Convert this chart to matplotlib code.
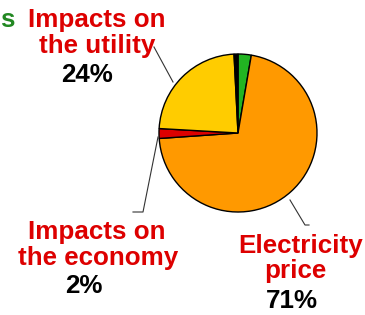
import matplotlib
matplotlib.use("Agg")
import matplotlib.pyplot as plt

# Data (clockwise from 12 o'clock)
categories = ["Environmental impacts", "Electricity price", "Impacts on the economy",
              "Impacts on the utility", "Other"]
values = [2.7, 71.2, 2.0, 23.3, 0.8]
colors = ["#22b422", "#ff9900", "#dd0000", "#ffcc00", "#000000"]

plt.rcParams['font.family'] = ['Liberation Sans', 'DejaVu Sans']

W, H = 365, 315
fig = plt.figure(figsize=(W / 100, H / 100), dpi=100)
ax = fig.add_axes([0, 0, 1, 1])

def Y(y):
    return H - y

ax.pie(values, colors=colors, startangle=90, counterclock=False,
       center=(238, Y(133)), radius=79, frame=True,
       wedgeprops=dict(edgecolor="black", linewidth=1.0))
ax.set_xlim(0, W)
ax.set_ylim(0, H)
ax.set_aspect('equal')
ax.axis('off')

fs = 18.7
red = "#dd0000"

def txt(x, y, s, c):
    ax.text(x, Y(y), s, color=c, fontsize=fs, fontweight='bold',
            ha='center', va='baseline')

# Utility label
txt(97, 27, "Impacts on", red)
txt(97, 53, "the utility", red)
txt(87, 82, "24%", "black")
# Economy label
txt(97, 239, "Impacts on", red)
txt(98, 265, "the economy", red)
txt(84, 293, "2%", "black")
# Electricity label
txt(301, 253, "Electricity", red)
txt(295, 278, "price", red)
txt(292, 308, "71%", "black")
# Cut-off green label
ax.text(0.5, Y(27), "s", color="#228822", fontsize=fs, fontweight='bold',
        ha='left', va='baseline')

lw = 0.8
ax.plot([154, 173], [Y(47), Y(82)], color="#333333", lw=lw)
ax.plot([290, 305, 309], [Y(200), Y(225), Y(225)], color="#333333", lw=lw)
ax.plot([158, 143, 133], [Y(137), Y(212), Y(212)], color="#333333", lw=lw)

fig.savefig("out.png", dpi=100)
